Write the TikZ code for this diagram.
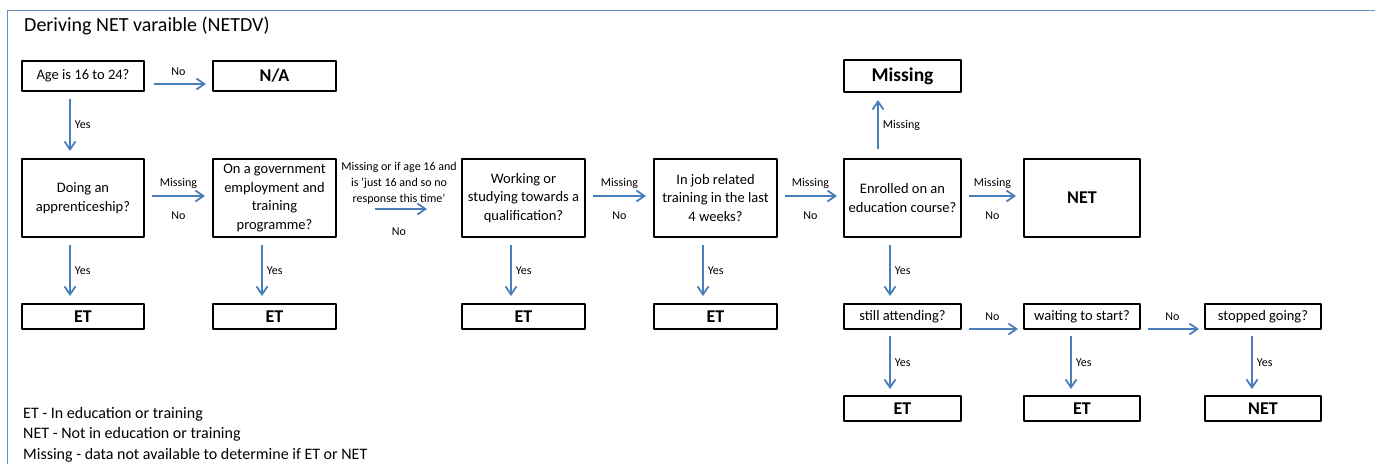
\documentclass[tikz,border=0pt]{standalone}
\usepackage{fontspec}
\setmainfont{Carlito}
\usetikzlibrary{arrows.meta}
\definecolor{xanh}{RGB}{74,126,187}
\begin{document}
\begin{tikzpicture}[x=1pt,y=-1pt, line join=round,
	>={Straight Barb[length=8pt,width=11pt]},
	box/.style={draw, line width=2pt, align=center, inner sep=1pt, font=\fontsize{14.5}{18.7}\selectfont},
	res/.style={box, font=\bfseries\fontsize{18}{20}\selectfont},
	arr/.style={->, draw=xanh, line width=1.8pt, shorten <=7pt, shorten >=7pt},
	lbl/.style={font=\fontsize{12}{16}\selectfont, inner sep=1pt},
	key/.style={anchor=base west, inner sep=0pt, font=\fontsize{16}{20}\selectfont}]
	\useasboundingbox (0,0) rectangle (1375,464);
	\draw[xanh!85, line width=1pt] (7,464)--(7,10)--(1375,10);
	\path
	(24,26) node[anchor=west, inner sep=0pt, font=\fontsize{20}{24}\selectfont] (title) {Deriving NET varaible (NETDV)}
	% hang 1
	(83,76) node[box, minimum width=122pt, minimum height=30pt] (age) {Age is 16 to 24?}
	(274.5,76) node[res, minimum width=123pt, minimum height=30pt] (na) {N/A}
	(902.5,76) node[res, minimum width=117pt, minimum height=32pt, font=\bfseries\fontsize{19.5}{22}\selectfont] (miss) {Missing}
	% hang 2
	(83,198) node[box, minimum width=122pt, minimum height=78pt] (appr) {Doing an\\apprenticeship?}
	(274.5,198) node[box, minimum width=123pt, minimum height=78pt] (gov) {On a government\\employment and\\training\\programme?}
	(523.5,198) node[box, minimum width=123pt, minimum height=78pt] (qual) {Working or\\studying towards a\\qualification?}
	(715.5,198) node[box, minimum width=123pt, minimum height=78pt] (job) {In job related\\training in the last\\4 weeks?}
	(902.5,198) node[box, minimum width=117pt, minimum height=78pt] (enrol) {Enrolled on an\\education course?}
	(1082,198) node[res, minimum width=116pt, minimum height=78pt] (net) {NET}
	% hang 3
	(83,316.5) node[res, minimum width=122pt, minimum height=25pt] (et1) {ET}
	(274.5,316.5) node[res, minimum width=123pt, minimum height=25pt] (et2) {ET}
	(523.5,316.5) node[res, minimum width=123pt, minimum height=25pt] (et3) {ET}
	(715.5,316.5) node[res, minimum width=123pt, minimum height=25pt] (et4) {ET}
	(902.5,316.5) node[box, minimum width=117pt, minimum height=25pt] (still) {still attending?}
	(1082,316.5) node[box, minimum width=116pt, minimum height=25pt] (wait) {waiting to start?}
	(1263,316.5) node[box, minimum width=116pt, minimum height=25pt] (stop) {stopped going?}
	% hang 4
	(902.5,408.5) node[res, minimum width=117pt, minimum height=25pt] (et5) {ET}
	(1082,408.5) node[res, minimum width=116pt, minimum height=25pt] (et6) {ET}
	(1263,408.5) node[res, minimum width=116pt, minimum height=25pt] (net2) {NET}
	% chu thich
	(23,418) node[key] (k1) {ET - In education or training}
	(23,438.5) node[key] (k2) {NET - Not in education or training}
	(23,459.5) node[key] (k3) {Missing - data not available to determine if ET or NET};
	\draw[arr, shorten <=9pt, shorten >=6pt] ([yshift=-8pt]age.east)--node[lbl, above=7pt] (n1) {No} ([yshift=-8pt]na.west);
	\draw[arr] ([xshift=-13pt]age.south)--node[lbl, right=3pt] (y1) {Yes} ([xshift=-13pt]appr.north);
	\draw[arr] ([yshift=2pt]appr.east)--node[lbl, above=6pt] (m1) {Missing} node[lbl, below=14pt] (n2) {No} ([yshift=2pt]gov.west);
	\draw[arr, shorten <=38pt, shorten >=34pt] ([yshift=-11pt]gov.east)--node[lbl, above=3pt, align=center] (m2) {Missing or if age 16 and\\is 'just 16 and so no\\response this time'} node[lbl, below=17pt] (n3) {No} ([yshift=-11pt]qual.west);
	\draw[arr] ([yshift=2pt]qual.east)--node[lbl, above=6pt] (m3) {Missing} node[lbl, below=14pt] (n4) {No} ([yshift=2pt]job.west);
	\draw[arr, shorten >=6pt] ([yshift=2pt]job.east)--node[lbl, above=6pt] (m4) {Missing} node[lbl, below=14pt] (n5) {No} ([yshift=2pt]enrol.west);
	\draw[arr, shorten >=7pt] ([yshift=2pt]enrol.east)--node[lbl, above=6pt] (m5) {Missing} node[lbl, below=14pt] (n6) {No} ([yshift=2pt]net.west);
	\draw[arr, shorten <=9pt, shorten >=7pt] ([xshift=-24.5pt]enrol.north)--node[lbl, right=3pt] (m6) {Missing} ([xshift=-24.5pt]miss.south);
	\draw[arr] ([xshift=-13pt]appr.south)--node[lbl, right=3pt] (y2) {Yes} ([xshift=-13pt]et1.north);
	\draw[arr] ([xshift=-12.5pt]gov.south)--node[lbl, right=3pt] (y3) {Yes} ([xshift=-12.5pt]et2.north);
	\draw[arr] ([xshift=-12.5pt]qual.south)--node[lbl, right=3pt] (y4) {Yes} ([xshift=-12.5pt]et3.north);
	\draw[arr] ([xshift=-12.5pt]job.south)--node[lbl, right=3pt] (y5) {Yes} ([xshift=-12.5pt]et4.north);
	\draw[arr] ([xshift=-12.5pt]enrol.south)--node[lbl, right=3pt] (y6) {Yes} ([xshift=-12.5pt]still.north);
	\draw[arr, shorten <=6pt, shorten >=6pt] ([xshift=-12.5pt]still.south)--node[lbl, right=3pt] (y7) {Yes} ([xshift=-12.5pt]et5.north);
	\draw[arr, shorten <=6pt, shorten >=6pt] ([xshift=-11pt]wait.south)--node[lbl, right=3pt] (y8) {Yes} ([xshift=-11pt]et6.north);
	\draw[arr, shorten <=6pt, shorten >=6pt] ([xshift=-11pt]stop.south)--node[lbl, right=3pt] (y9) {Yes} ([xshift=-11pt]net2.north);
	\draw[arr, shorten >=5pt] ([yshift=-12.5pt]still.east)--node[lbl, above=7pt] (n7) {No} ([yshift=-12.5pt]wait.west);
	\draw[arr, shorten >=5pt] ([yshift=-12.5pt]wait.east)--node[lbl, above=7pt] (n8) {No} ([yshift=-12.5pt]stop.west);
\end{tikzpicture}
\end{document}
